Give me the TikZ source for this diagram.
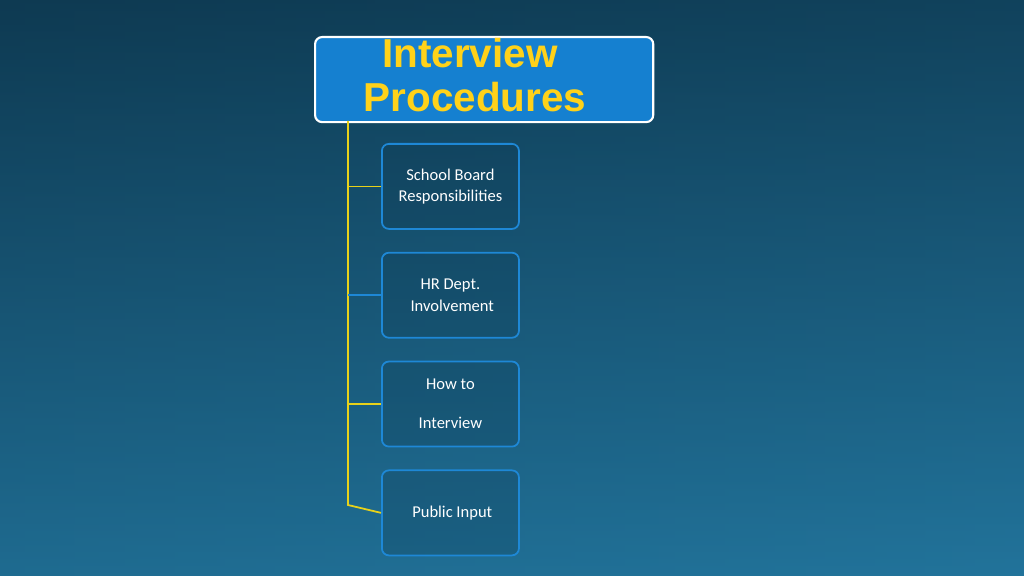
\documentclass[tikz,border=0pt]{standalone}
\usepackage{fontspec}
\setmainfont{Carlito}
\newfontfamily\titlefont{Liberation Sans}
\usetikzlibrary{positioning}
\definecolor{bgdark}{HTML}{0E3A52}
\definecolor{bglight}{HTML}{2A8CBA}
\definecolor{headblue}{HTML}{1580D0}
\definecolor{titleyellow}{HTML}{FFD21A}
\definecolor{itemblue}{HTML}{1E88D6}
\definecolor{lineyellow}{HTML}{E8D21A}

\begin{document}
\begin{tikzpicture}[x=0.01cm,y=-0.01cm,
        item/.style={draw=itemblue, line width=0.5pt, rounded corners=2pt, fill=bgdark, fill opacity=0.25, text opacity=1,
          minimum width=1.37cm, minimum height=0.85cm, text=white, font=\fontsize{4.7}{6}\selectfont, align=center, inner sep=0pt},
        branch/.style={lineyellow, line width=0.5pt}]
        \shade[left color=bgdark, right color=bgdark!75!bglight] (0,0) rectangle (1024,576);
        \shade[top color=bgdark, bottom color=bglight, opacity=0.6] (0,0) rectangle (1024,576);
        \useasboundingbox (0,0) rectangle (1024,576);
        \node[draw=white, line width=0.6pt, fill=headblue, rounded corners=2pt, minimum width=3.38cm, minimum height=0.85cm,
          anchor=north west, inner sep=0pt] (head) at (314,36) {};
        \node[text=titleyellow, font=\titlefont\bfseries\fontsize{11.5}{13}\selectfont] (t1) at (470,53) {Interview};
        \node[text=titleyellow, font=\titlefont\bfseries\fontsize{11.5}{13}\selectfont] (t2) at (475,97) {Procedures};
        \node[item, anchor=north west] (board) at (381,143) {School Board\\Responsibilities};
        \node[item, below=0.22cm of board] (hr) {HR Dept.\\\ Involvement};
        \node[item, below=0.22cm of hr] (how) {How to\\[5pt]Interview};
        \node[item, below=0.22cm of how] (pub) {\ Public Input};
        \coordinate (top) at (348,121);
        \coordinate (bot) at (348,505);
        \draw[branch] (top) -- (bot) -- (pub.west);
        \draw[branch] (board.west) -- (board.west -| top);
        \draw[itemblue, line width=0.5pt] (hr.west) -- (hr.west -| top);
        \draw[branch] (how.west) -- (how.west -| top);
\end{tikzpicture}
\end{document}
